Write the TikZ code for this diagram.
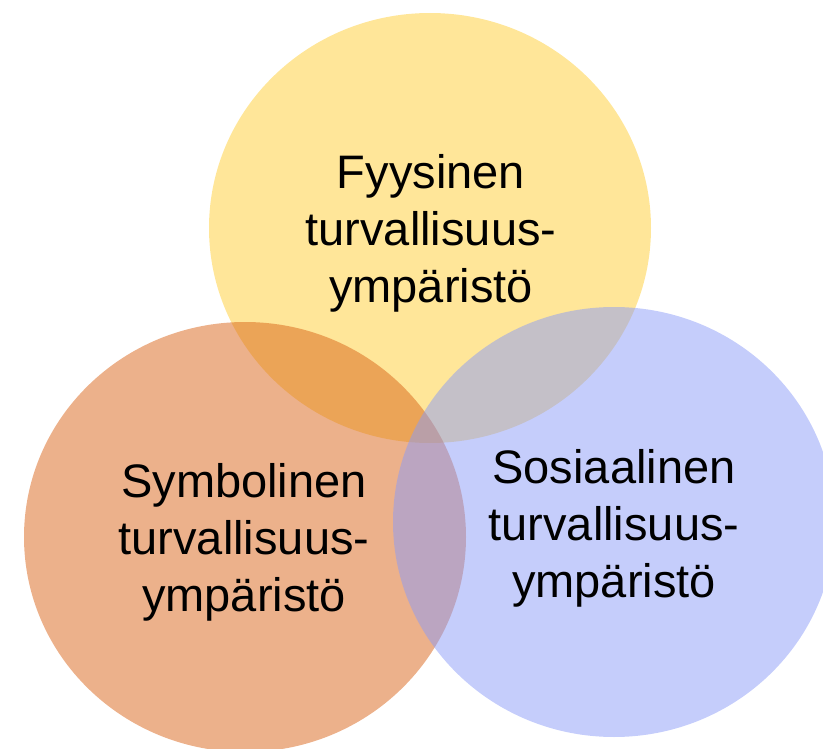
\documentclass[tikz,border=0pt]{standalone}
\usepackage{fontspec}
\setmainfont{Liberation Sans}
\definecolor{yel}{RGB}{255,230,153}
\definecolor{ora}{RGB}{217,99,23}
\definecolor{blu}{RGB}{139,155,247}
\begin{document}
\begin{tikzpicture}[x=1pt,y=-1pt,
  lbl/.style={align=center,font=\fontsize{47}{57}\selectfont,text=black,inner sep=0pt}]
\useasboundingbox (0,0) rectangle (823,749);
\clip (0,0) rectangle (823,749);
\fill[yel] (430,228) ellipse [x radius=221, y radius=215];
\fill[ora,fill opacity=0.5] (245,537) ellipse [x radius=221, y radius=215];
\fill[blu,fill opacity=0.5] (614,522) ellipse [x radius=221, y radius=215];
\node[lbl] (fyys) at (431,233) {Fyysinen\\turvallisuus-\\ympäristö};
\node[lbl] (symb) at (244,542) {Symbolinen\\turvallisuus-\\ympäristö};
\node[lbl] (sos) at (614,528) {Sosiaalinen\\turvallisuus-\\ympäristö};
\end{tikzpicture}
\end{document}
